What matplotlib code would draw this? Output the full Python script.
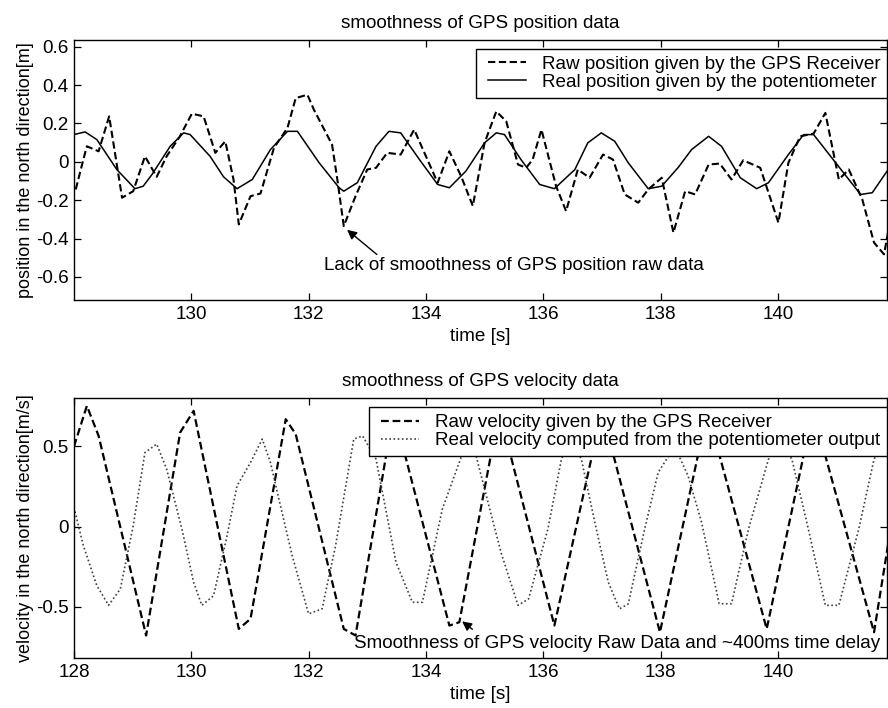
import matplotlib
matplotlib.use('Agg')
import matplotlib.pyplot as plt
from matplotlib.lines import Line2D
from matplotlib.legend_handler import HandlerLine2D

plt.rcParams['font.family'] = ['Liberation Sans', 'DejaVu Sans']
plt.rcParams['font.size'] = 13.6

# position data [s], [m]
t_raw_pos = [128.03, 128.16, 128.22, 128.42, 128.60, 128.82, 129.01, 129.21, 129.41, 129.58,
             129.80, 130.01, 130.21, 130.41, 130.58, 130.72, 130.81, 131.01, 131.18, 131.41,
             131.64, 131.78, 131.98, 132.09, 132.40, 132.49, 132.60, 132.80, 133.00, 133.15,
             133.34, 133.57, 133.80, 134.20, 134.40, 134.60, 134.80, 135.00, 135.20, 135.37,
             135.57, 135.71, 135.82, 135.97, 136.22, 136.39, 136.59, 136.79, 137.02, 137.19,
             137.39, 137.62, 137.79, 138.02, 138.22, 138.42, 138.59, 138.82, 139.01, 139.21,
             139.41, 139.70, 140.01, 140.18, 140.38, 140.61, 140.81, 141.04, 141.21, 141.44,
             141.64, 141.81, 141.95]
raw_pos = [-0.144, 0.012, 0.081, 0.055, 0.237, -0.187, -0.153, 0.029, -0.078, 0.029,
           0.130, 0.251, 0.237, 0.047, 0.107, -0.092, -0.326, -0.179, -0.165, 0.073,
           0.177, 0.332, 0.350, 0.272, 0.090, -0.092, -0.335, -0.179, -0.040, -0.031,
           0.047, 0.038, 0.168, -0.109, 0.055, -0.075, -0.230, 0.099, 0.263, 0.211,
           -0.014, -0.031, 0.012, 0.168, -0.127, -0.257, -0.040, -0.083, 0.038, 0.012,
           -0.170, -0.213, -0.144, -0.083, -0.369, -0.153, -0.170, -0.014, -0.009, -0.092,
           0.008, -0.031, -0.317, -0.005, 0.133, 0.147, 0.255, -0.092, -0.040, -0.196,
           -0.421, -0.482, -0.250]

t_real_pos = [128.00, 128.19, 128.39, 128.73, 129.04, 129.18, 129.33, 129.64, 129.87, 129.98,
              130.32, 130.55, 130.78, 131.04, 131.35, 131.64, 131.81, 132.18, 132.52, 132.60,
              132.83, 133.15, 133.37, 133.57, 133.89, 134.20, 134.40, 134.68, 135.00, 135.20,
              135.34, 135.62, 135.94, 136.19, 136.54, 136.76, 136.99, 137.22, 137.45, 137.79,
              138.02, 138.30, 138.53, 138.82, 139.04, 139.36, 139.64, 139.84, 140.18, 140.44,
              140.61, 140.92, 141.41, 141.61, 141.92]
real_pos = [0.142, 0.156, 0.116, -0.040, -0.140, -0.127, -0.066, 0.081, 0.151, 0.142,
            0.029, -0.078, -0.140, -0.092, 0.064, 0.159, 0.159, -0.005, -0.135, -0.153,
            -0.109, 0.081, 0.159, 0.151, 0.012, -0.118, -0.135, -0.049, 0.099, 0.151,
            0.142, 0.012, -0.118, -0.140, -0.040, 0.099, 0.151, 0.107, -0.005, -0.140,
            -0.127, -0.030, 0.064, 0.133, 0.081, -0.083, -0.140, -0.109, 0.038, 0.142,
            0.142, 0.021, -0.170, -0.161, -0.023]

# velocity data [s], [m/s]
t_raw_vel = [128.00, 128.22, 128.42, 129.23, 129.81, 130.04, 130.21, 130.81, 131.01, 131.61,
             131.78, 132.60, 132.80, 133.45, 134.40, 134.57, 135.25, 136.19, 137.00, 137.99,
             138.80, 139.81, 140.60, 141.64, 141.95]
raw_vel = [0.50, 0.753, 0.566, -0.678, 0.587, 0.722, 0.421, -0.637, -0.574, 0.670,
           0.577, -0.637, -0.678, 0.720, -0.616, -0.595, 0.720, -0.616, 0.720, -0.658,
           0.720, -0.637, 0.720, -0.658, 0.050]

t_real_vel = [128.00, 128.16, 128.39, 128.59, 128.79, 129.01, 129.21, 129.41, 129.58, 129.84,
              130.04, 130.18, 130.38, 130.61, 130.78, 131.01, 131.21, 131.35, 131.52, 131.72,
              132.00, 132.23, 132.46, 132.77, 132.92, 133.15, 133.49, 133.77, 133.94, 134.28,
              134.63, 134.78, 135.00, 135.28, 135.57, 135.75, 136.08, 136.31, 136.48, 136.65,
              136.88, 137.11, 137.30, 137.45, 137.73, 137.96, 138.24, 138.47, 138.70, 139.00,
              139.21, 139.50, 139.84, 140.04, 140.24, 140.52, 140.81, 141.04, 141.38, 141.64,
              141.85]
real_vel = [0.120, -0.118, -0.367, -0.490, -0.388, 0.006, 0.462, 0.515, 0.359, -0.014,
            -0.347, -0.490, -0.430, -0.056, 0.255, 0.400, 0.546, 0.400, 0.131, -0.180,
            -0.543, -0.512, -0.118, 0.546, 0.566, 0.420, -0.222, -0.471, -0.471, 0.110,
            0.462, 0.550, 0.235, -0.160, -0.490, -0.450, -0.014, 0.421, 0.550, 0.421,
            0.027, -0.347, -0.512, -0.481, -0.014, 0.338, 0.500, 0.317, 0.027, -0.480,
            -0.480, -0.014, 0.420, 0.550, 0.420, -0.014, -0.490, -0.490, -0.014, 0.420,
            0.550]

pos_ticks = [0.6, 0.4, 0.2, 0, -0.2, -0.4, -0.6]
pos_labels = ['0.6', '0.4', '0.2', '0', '-0.2', '-0.4', '-0.6']
vel_ticks = [0.5, 0, -0.5]
vel_labels = ['0.5', '0', '-0.5']


def style_axes(ax):
    for s in ax.spines.values():
        s.set_linewidth(1.0)
    ax.tick_params(direction='in', top=True, right=True, length=5, width=0.9, pad=4)


def add_legend(ax):
    # inset the line samples a little from the frame edge
    leg = ax.legend(loc='upper right', bbox_to_anchor=(1.0, 0.965), borderaxespad=0,
                    fancybox=False, edgecolor='k', framealpha=1, borderpad=0.35,
                    labelspacing=0.05, handlelength=2.6, handletextpad=0.55,
                    handler_map={Line2D: HandlerLine2D(numpoints=2, marker_pad=0.3)})
    leg.get_frame().set_linewidth(1.0)
    return leg


fig = plt.figure(figsize=(8.88, 7.08), dpi=100)
ax1 = fig.add_axes([0.0833, 0.5763, 0.9155, 0.3672])
ax2 = fig.add_axes([0.0833, 0.0702, 0.9155, 0.3672])

# top: position
ax1.plot(t_raw_pos, raw_pos, color='k', lw=1.5, dashes=(3.5, 1.7),
         label='Raw position given by the GPS Receiver')
ax1.plot(t_real_pos, real_pos, color='k', lw=1.1,
         label='Real position given by the potentiometer')
ax1.set_xlim(128.0, 141.86)
ax1.set_ylim(-0.72, 0.635)
ax1.set_xticks(range(130, 142, 2))
ax1.set_yticks(pos_ticks, pos_labels)
ax1.set_title('smoothness of GPS position data', fontsize=13.6, pad=9)
ax1.set_xlabel('time [s]', labelpad=4)
ax1.set_ylabel('position in the north direction[m]', fontsize=13, labelpad=1)
style_axes(ax1)
add_legend(ax1)
ax1.annotate('', xy=(132.62, -0.345), xytext=(133.20, -0.492),
             arrowprops=dict(arrowstyle='-|>', color='k', lw=1.0, mutation_scale=14))
ax1.text(132.26, -0.54, 'Lack of smoothness of GPS position raw data', va='center', ha='left')

# bottom: velocity
ax2.plot(t_raw_vel, raw_vel, color='k', lw=1.6, dashes=(3.5, 1.7),
         label='Raw velocity given by the GPS Receiver')
ax2.plot(t_real_vel, real_vel, color='0.25', lw=1.2, linestyle=(0, (1, 1.5)),
         label='Real velocity computed from the potentiometer output')
ax2.set_xlim(128.0, 141.86)
ax2.set_ylim(-0.82, 0.8)
ax2.set_xticks(range(128, 142, 2))
ax2.set_yticks(vel_ticks, vel_labels)
ax2.set_title('smoothness of GPS velocity data', fontsize=13.6, pad=9)
ax2.set_xlabel('time [s]', labelpad=4)
ax2.set_ylabel('velocity in the north direction[m/s]', fontsize=13, labelpad=1)
style_axes(ax2)
add_legend(ax2)
ax2.annotate('', xy=(134.58, -0.579), xytext=(134.83, -0.65),
             arrowprops=dict(arrowstyle='-|>', color='k', lw=1.0, mutation_scale=14))
ax2.text(132.77, -0.73, 'Smoothness of GPS velocity Raw Data and ~400ms time delay',
         va='center', ha='left')

fig.savefig('out.png', dpi=100)
